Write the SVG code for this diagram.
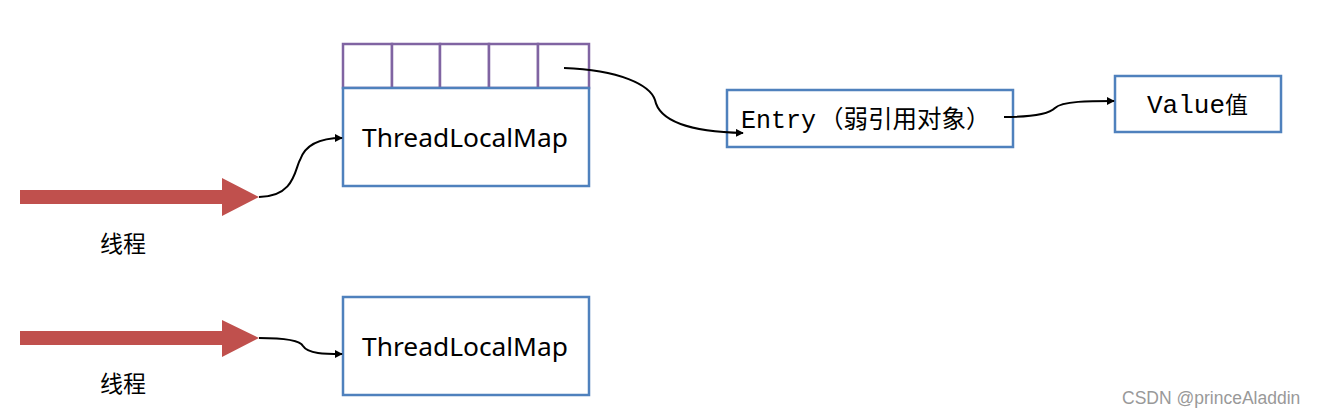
<svg xmlns="http://www.w3.org/2000/svg" width="1318" height="417" viewBox="0 0 1318 417">
<style>
.box{fill:#fff;stroke:#4F81BD;stroke-width:2.5}
.cell{fill:#fff;stroke:#8064A2;stroke-width:2.5}
.lbl{font-family:"Noto Sans","Liberation Sans",sans-serif;font-size:25px;fill:#000}
.mono{font-family:"Liberation Mono","DejaVu Sans Mono","Noto Sans CJK SC",monospace;font-size:25px;fill:#000}
.cn{font-family:"Noto Sans CJK SC",sans-serif;font-size:23px;fill:#000}
.con{fill:none;stroke:#000;stroke-width:2}
.thr{fill:#C0504D}
</style>
<defs>
<marker id="ah" viewBox="0 0 10 10" refX="9" refY="5" markerWidth="8" markerHeight="8" orient="auto" markerUnits="userSpaceOnUse">
<path d="M0,0 L10,5 L0,10 z" fill="#000"/>
</marker>
</defs>
<rect width="1318" height="417" fill="#fff"/>

<g id="thread1">
<polygon class="thr" points="20,190 222,190 222,178 259,197 222,216 222,204 20,204"/>
<text class="cn" x="100" y="252">线程</text>
</g>
<g id="thread2">
<polygon class="thr" points="20,331 222,331 222,320 259,338 222,357 222,345 20,345"/>
<text class="cn" x="100" y="392">线程</text>
</g>

<g id="map1">
<rect class="cell" x="343" y="44" width="49" height="44"/>
<rect class="cell" x="392" y="44" width="48" height="44"/>
<rect class="cell" x="440" y="44" width="49" height="44"/>
<rect class="cell" x="489" y="44" width="49" height="44"/>
<rect class="cell" x="538" y="44" width="51" height="44"/>
<rect class="box" x="343" y="88" width="246" height="98"/>
<text class="lbl" x="465" y="147" text-anchor="middle" textLength="206" lengthAdjust="spacingAndGlyphs">ThreadLocalMap</text>
</g>

<g id="map2">
<rect class="box" x="343" y="297" width="246" height="98"/>
<text class="lbl" x="465" y="356" text-anchor="middle" textLength="206" lengthAdjust="spacingAndGlyphs">ThreadLocalMap</text>
</g>

<g id="entry">
<rect class="box" x="727" y="90" width="286" height="57"/>
<text x="741" y="128"><tspan class="mono">Entry</tspan><tspan class="cn" style="font-size:24.5px" dx="3">（弱引用对象）</tspan></text>
</g>

<g id="value">
<rect class="box" x="1115" y="76" width="166" height="56"/>
<text x="1147" y="113"><tspan class="mono" style="font-size:26px">Value</tspan><tspan class="cn">值</tspan></text>
</g>

<g id="connectors">
<path class="con" marker-end="url(#ah)" d="M259,197 C295,197 295,168 300,160 C305,145 320,138 342,138"/>
<path class="con" marker-end="url(#ah)" d="M259,338 C285,338 300,340 303,346 C308,354 325,354 342,354"/>
<path class="con" marker-end="url(#ah)" d="M564,68 C620,70 650,85 655,100 C660,125 700,132 743,133"/>
<path class="con" marker-end="url(#ah)" d="M1004,117 C1035,117 1050,113 1055,108 C1062,101 1090,101 1114,101"/>
</g>

<text x="1122" y="404" font-family="Liberation Sans,Arial,sans-serif" font-size="17.5" fill="#999">CSDN @princeAladdin</text>
</svg>
